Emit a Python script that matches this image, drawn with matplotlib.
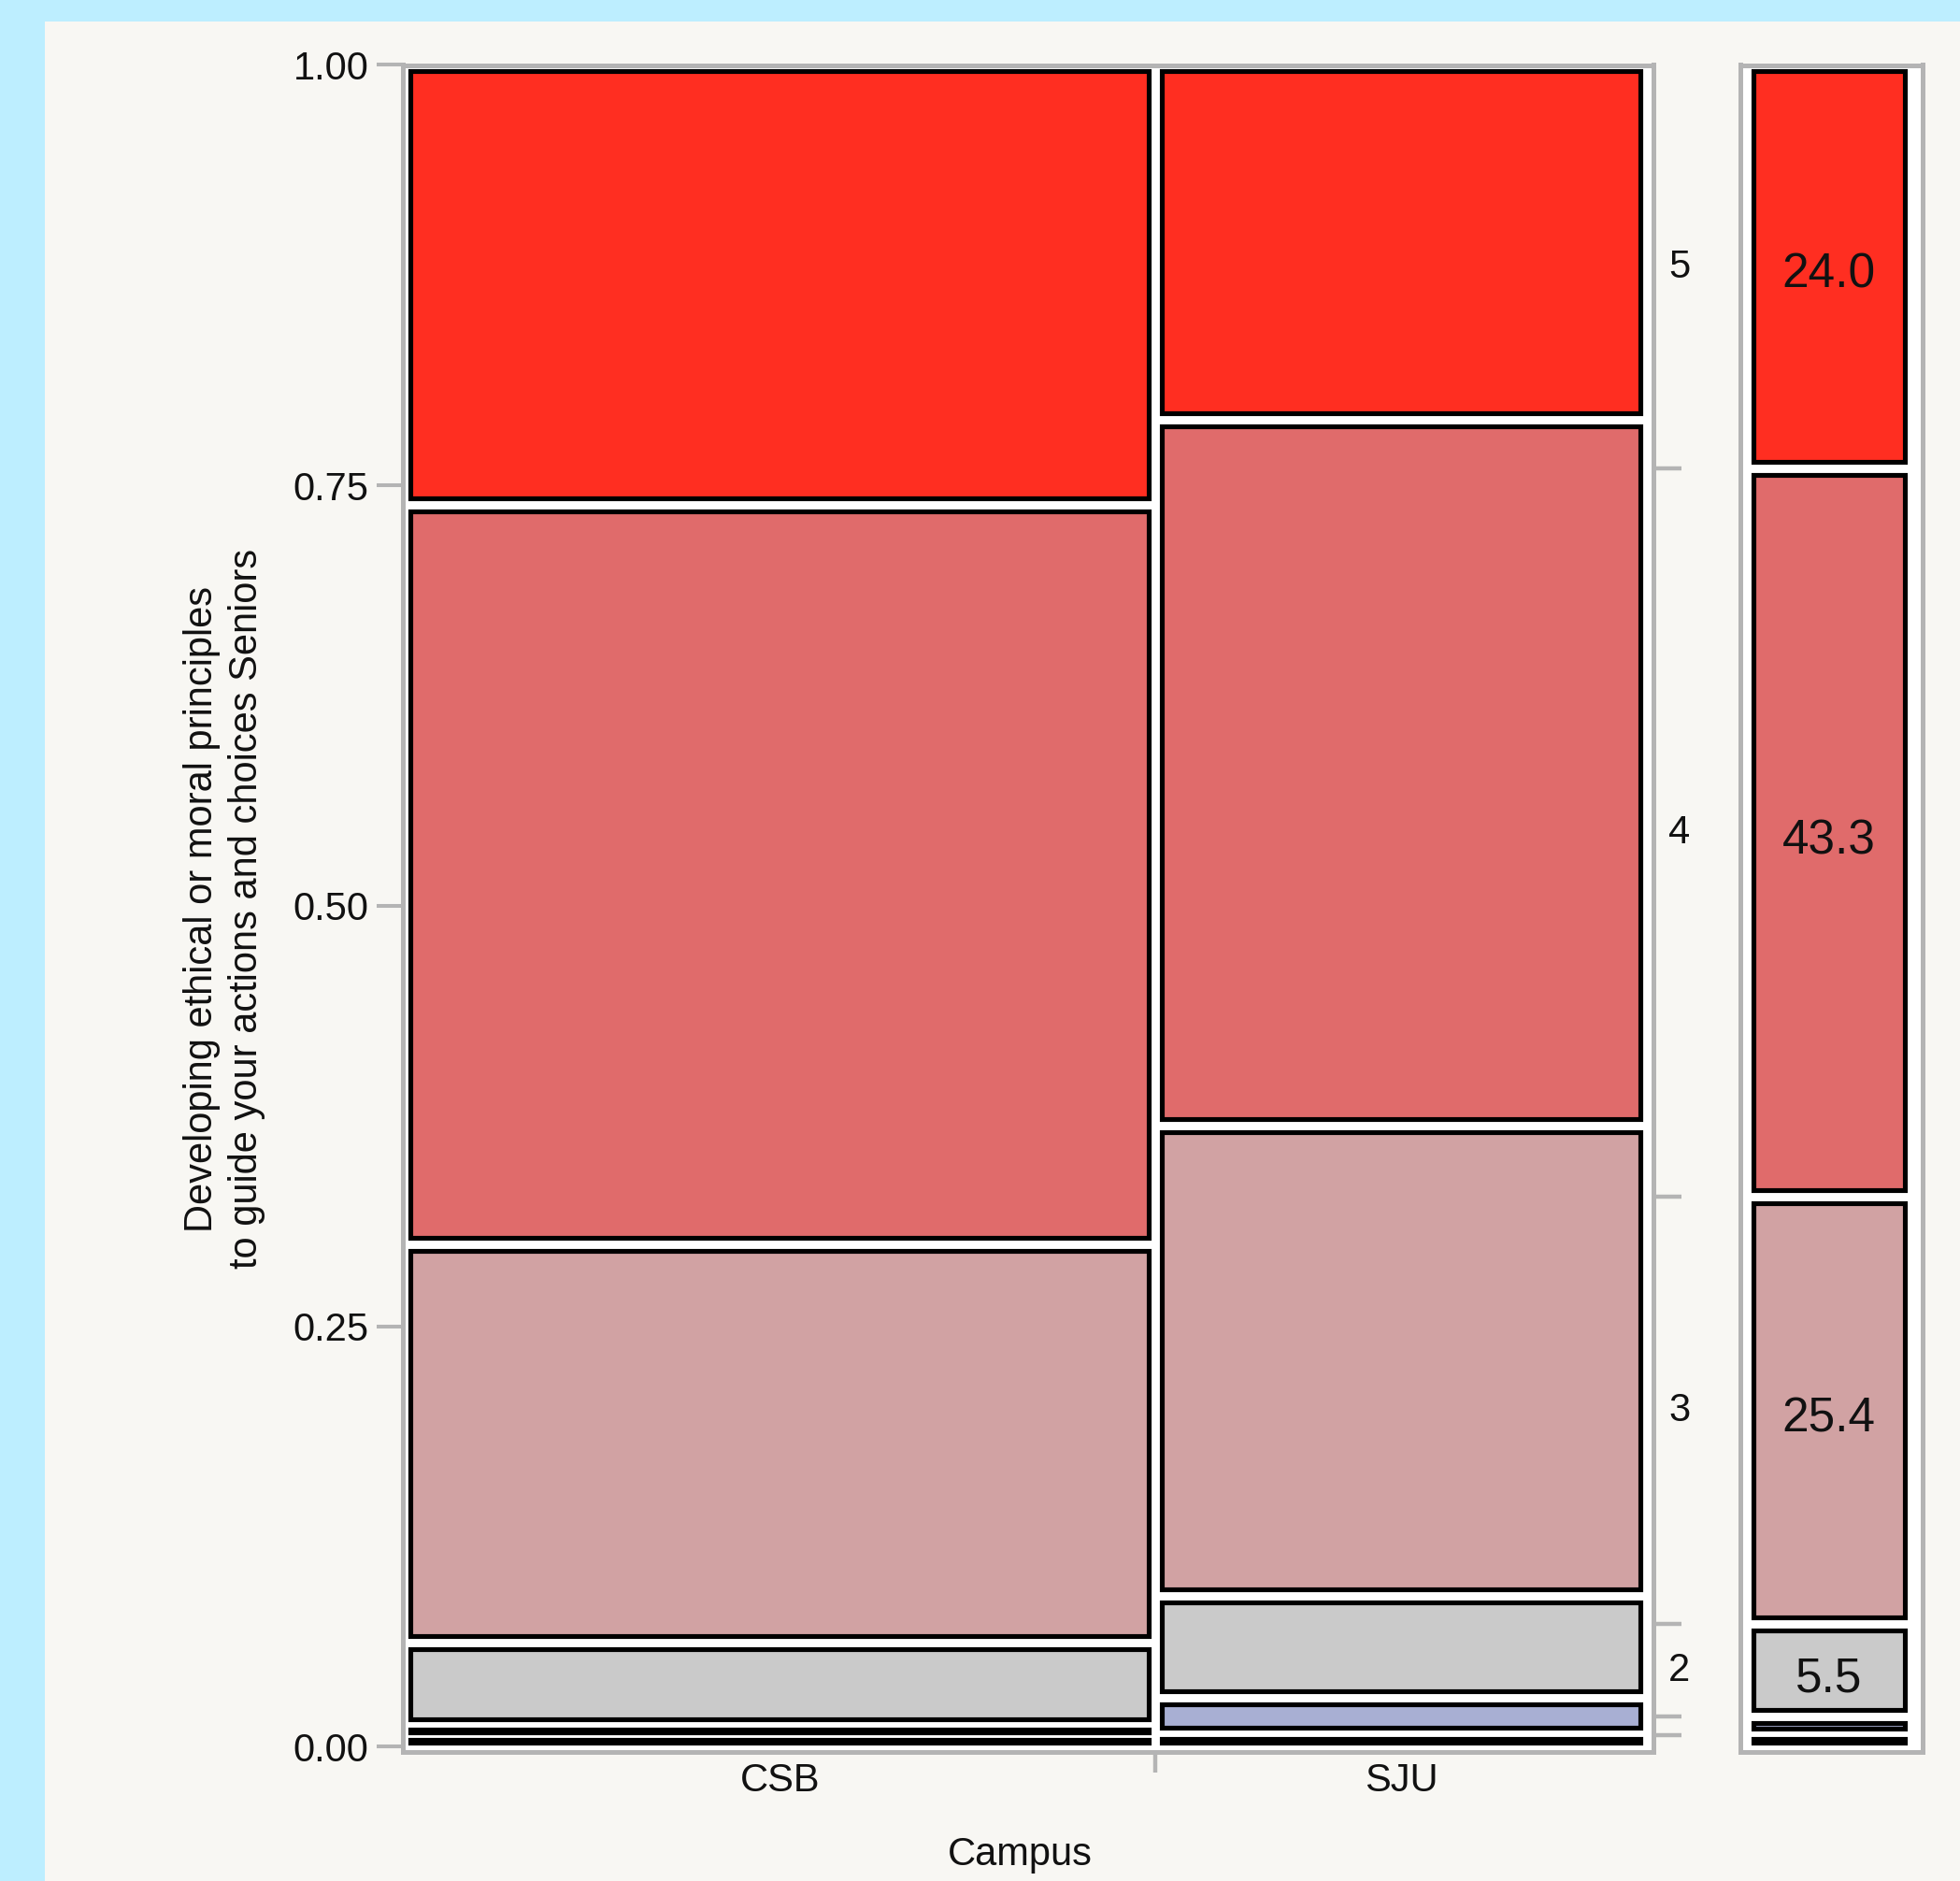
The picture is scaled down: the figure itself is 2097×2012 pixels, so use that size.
import matplotlib
matplotlib.use('Agg')
import matplotlib.pyplot as plt
from matplotlib.patches import Rectangle
from matplotlib.transforms import offset_copy
import numpy as np

plt.rcParams['font.family'] = ['Liberation Sans', 'DejaVu Sans']

# data (percent of each campus, bottom level first)
levels = ['0', '1', '2', '3', '4', '5']
campuses = ['CSB', 'SJU']
campus_share = [0.6045, 0.3955]
csb_pct = [0.65, 0.60, 4.95, 23.66, 44.00, 26.14]
sju_pct = [0.76, 2.15, 6.05, 27.95, 42.01, 21.08]
all_pct = [0.7, 1.1, 5.5, 25.4, 43.3, 24.0]

level_colors = ['#303C8F', '#A8AFD3', '#CACACA', '#D1A2A3', '#E06B6B', '#FF2E21']
frame_col = '#B4B4B4'
text_col = '#111111'

W, H = 2097, 2012
fig = plt.figure(figsize=(W / 100, H / 100), dpi=100, facecolor='#BDEEFF')
fig.patches.append(Rectangle((48 / W, 0), 1, 1 - 23 / H, transform=fig.transFigure,
                             facecolor='#F8F7F3', edgecolor='none', zorder=-5))

top_px, bot_px = 69.5, 1873.5
ax = fig.add_axes([430.5 / W, 1 - bot_px / H, (1769 - 430.5) / W, (bot_px - top_px) / H])
ax2 = fig.add_axes([1861.5 / W, 1 - bot_px / H, (2056.5 - 1861.5) / W, (bot_px - top_px) / H])

ylo, yhi = -0.00284, 1.0
ax.set_xlim(-0.0015, 1.0049)
ax.set_ylim(ylo, yhi)
ax2.set_xlim(-0.0398, 1.068)
ax2.set_ylim(ylo, yhi)


def draw_cells(a, x0, x1, pcts):
    # px -> data units for this axes
    bb = a.get_position()
    xpx = (a.get_xlim()[1] - a.get_xlim()[0]) / (bb.width * W)
    ypx = (a.get_ylim()[1] - a.get_ylim()[0]) / (bb.height * H)
    d = 7
    bounds = np.concatenate([[0], np.cumsum(pcts) / 100.0])
    for i in range(len(pcts)):
        y0, y1 = bounds[i], bounds[i + 1]
        dy = min(d * ypx, 0.35 * (y1 - y0))
        dx = d * xpx
        r = Rectangle((x0 + dx, y0 + dy), (x1 - x0) - 2 * dx, (y1 - y0) - 2 * dy,
                      facecolor=level_colors[i], edgecolor='black', linewidth=3.7, zorder=3)
        a.add_patch(r)
    return bounds


xs = np.concatenate([[0], np.cumsum(campus_share)])
for j, pcts in enumerate([csb_pct, sju_pct]):
    draw_cells(ax, xs[j], xs[j + 1], pcts)
mb = draw_cells(ax2, 0, 1, all_pct)

for a in (ax, ax2):
    a.set_facecolor('white')
    for s in a.spines.values():
        s.set_color(frame_col)
        s.set_linewidth(3.6)

# left axis
ax.set_yticks([0, 0.25, 0.5, 0.75, 1.0])
ax.set_yticklabels(['0.00', '0.25', '0.50', '0.75', '1.00'])
ax.tick_params(axis='y', length=20, width=2.9, color=frame_col, pad=5.8, labelsize=30,
               labelcolor=text_col)

# bottom axis
centers = (xs[:-1] + xs[1:]) / 2
ax.set_xticks([xs[1]])
ax.set_xticklabels([''])
ax.set_xticks(centers, minor=True)
ax.set_xticklabels(campuses, minor=True)
ax.tick_params(axis='x', which='major', length=16, width=3.2, color=frame_col)
ax.tick_params(axis='x', which='minor', length=0, pad=8, labelsize=30, labelcolor=text_col)

# right axis with level labels
tw = ax.twinx()
tw.set_ylim(ylo, yhi)
tw.patch.set_visible(False)
for s in tw.spines.values():
    s.set_visible(False)
tw.set_yticks(mb[1:-1])
tw.set_yticklabels([''] * (len(mb) - 2))
mids = (mb[:-1] + mb[1:]) / 2
tw.set_yticks(mids, minor=True)
tw.set_yticklabels([lv if p >= 5 else '' for lv, p in zip(levels, all_pct)], minor=True)
tw.tick_params(axis='y', which='major', length=21.6, width=3.2, color=frame_col)
tw.tick_params(axis='y', which='minor', length=0, pad=11.5, labelsize=30, labelcolor=text_col)
for lab in tw.get_yticklabels(minor=True):
    lab.set_transform(offset_copy(lab.get_transform(), fig=fig, y=4, units='dots'))

# right panel numbers
ax2.set_xticks([])
ax2.set_yticks([])
num_tr = offset_copy(ax2.transData, fig=fig, y=-9, units='dots')
for m, p in zip(mids, all_pct):
    if p >= 5:
        ax2.text(0.5, m, f'{p:.1f}', ha='center', va='center', fontsize=37,
                 color=text_col, transform=num_tr, zorder=5)

fig.text(240 / W, 1 - 972 / H,
         'Developing ethical or moral principles\nto guide your actions and choices Seniors',
         rotation=90, ha='center', va='center', multialignment='center',
         fontsize=30, linespacing=1.27, color=text_col)
fig.text(1091 / W, 1 - 1995 / H, 'Campus', ha='center', va='baseline', fontsize=30,
         color=text_col)

fig.savefig('out.png', dpi=100, facecolor=fig.get_facecolor())
